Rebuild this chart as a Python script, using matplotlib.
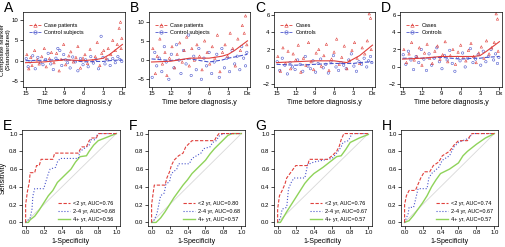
import numpy as np
import matplotlib
matplotlib.use("Agg")
import matplotlib.pyplot as plt
from matplotlib.lines import Line2D

plt.rcParams['font.family'] = ['Liberation Sans', 'DejaVu Sans']

RED = "#e0403c"
BLUE = "#4a55cc"
GREEN = "#8fd35a"

# ---- top row: composite marker vs. time before diagnosis ----
A_case_x = [14.8, 14.5, 14.2, 14.0, 13.6, 13.2, 12.9, 12.5, 12.1, 11.8, 11.3, 11.0, 10.6, 10.2, 9.8, 9.5, 9.1, 8.8, 8.3, 8.0, 7.6, 7.2,
            6.9, 6.5, 6.1, 5.8, 5.4, 5.0, 4.6, 4.2, 3.9, 3.5, 3.2, 2.9, 2.5, 2.2, 1.8, 1.5, 1.1, 0.8, 0.5, 0.3, 0.2, 0.1]
A_case_y = [1.5, -2.0, 0.8, -1.2, 2.5, 0.2, -0.8, 1.0, 3.0, -1.5, 0.5, 2.0, -0.5, 1.8, -2.5, 0.3, 4.0, -1.0, 1.2, 2.2, -0.3, 0.8,
            3.5, -1.8, 0.6, 1.5, -0.7, 2.8, 0.0, 1.0, 4.5, -1.2, 1.8, 2.5, 0.5, 3.0, 1.5, 5.0, 2.5, 4.0, 8.0, 9.5, 3.0, 5.5]
A_ctrl_x = [14.9, 14.6, 14.3, 13.9, 13.5, 13.1, 12.7, 12.3, 11.9, 11.5, 11.1, 10.7, 10.3, 10.0, 9.7, 9.4, 9.1, 8.8, 8.5, 8.1, 7.7,
            7.3, 6.9, 6.5, 6.1, 5.7, 5.3, 4.9, 4.5, 4.1, 3.7, 3.3, 3.0, 2.7, 2.3, 1.9, 1.5, 1.1, 0.7, 0.4, 0.1]
A_ctrl_y = [0.5, -1.5, -0.3, 1.2, -2.0, 0.8, -0.5, -1.0, 0.3, 1.8, -0.8, -2.2, 0.6, 3.0, 2.5, -1.2, 1.5, 0.2, -0.5, -1.8, 0.9,
            -0.3, -2.5, 0.5, -1.0, 0.2, -1.5, 1.0, -0.6, 0.3, -2.0, 6.0, 0.8, -0.8, 0.2, -1.2, 0.5, -0.5, 1.0, 0.3, -0.2]

B_case_x = [14.8, 14.4, 14.1, 13.7, 13.3, 12.9, 12.6, 12.2, 11.8, 11.4, 11.0, 10.6, 10.2, 9.9, 9.5, 9.1, 8.7, 8.3, 7.9, 7.5,
            7.1, 6.7, 6.3, 5.9, 5.5, 5.1, 4.7, 4.3, 3.9, 3.5, 3.1, 2.7, 2.3, 1.9, 1.5, 1.1, 0.8, 0.5, 0.3, 0.1]
B_case_y = [3.0, -3.5, 1.0, 5.5, -1.0, 2.0, -4.0, 0.5, 3.5, -2.0, 1.5, 4.5, -0.5, 2.5, 6.0, -1.5, 3.0, 0.0, 4.0, 1.0,
            -2.5, 5.0, 2.0, -1.0, 3.5, 0.5, 6.5, -3.0, 2.0, 4.0, 1.0, 7.0, 3.0, -1.5, 5.5, 2.5, 9.0, 7.0, 11.5, 4.0]
B_ctrl_x = [14.9, 14.5, 14.2, 13.8, 13.4, 13.0, 12.7, 12.3, 11.9, 11.5, 11.1, 10.7, 10.4, 10.0, 9.6, 9.2, 8.8, 8.4, 8.0, 7.6,
            7.2, 6.8, 6.4, 6.0, 5.6, 5.2, 4.8, 4.4, 4.0, 3.6, 3.2, 2.8, 2.4, 2.0, 1.6, 1.2, 0.9, 0.6, 0.3, 0.1]
B_ctrl_y = [-4.5, 2.0, -1.5, 0.5, -3.0, 3.5, -0.5, -5.0, 1.5, -2.0, 4.0, 0.0, -3.5, 2.5, -1.0, 6.5, -4.0, 1.0, -2.5, 3.0,
            -5.0, 0.5, -1.5, 2.0, -3.5, -0.5, 1.5, -4.5, 3.0, -2.0, 0.5, -3.0, 2.5, -1.0, 1.0, -2.5, 3.5, 0.5, -1.5, 2.0]

C_case_x = [14.8, 14.4, 14.0, 13.6, 13.2, 12.8, 12.4, 12.0, 11.6, 11.2, 10.8, 10.4, 10.0, 9.6, 9.2, 8.8, 8.4, 8.0, 7.6, 7.2,
            6.8, 6.4, 6.0, 5.6, 5.2, 4.8, 4.4, 4.0, 3.6, 3.2, 2.8, 2.4, 2.0, 1.6, 1.2, 0.8, 0.5, 0.3, 0.2]
C_case_y = [1.2, -0.5, 2.2, 0.4, 1.8, -0.2, 1.5, 0.8, 2.5, -0.6, 1.0, 0.2, 2.8, 0.6, -0.3, 1.6, 2.0, 0.1, 1.3, 2.6,
            -0.4, 0.9, 1.7, 3.2, 0.3, 1.1, 2.4, -0.2, 0.7, 1.9, 2.8, 1.0, 0.4, 2.2, 1.5, 3.0, 6.1, 5.6, 2.0]
C_ctrl_x = [14.9, 14.5, 14.1, 13.7, 13.3, 12.9, 12.5, 12.1, 11.7, 11.3, 10.9, 10.5, 10.1, 9.7, 9.3, 8.9, 8.5, 8.1, 7.7, 7.3,
            6.9, 6.5, 6.1, 5.7, 5.3, 4.9, 4.5, 4.1, 3.7, 3.3, 2.9, 2.5, 2.1, 1.7, 1.3, 0.9, 0.6, 0.3, 0.1]
C_ctrl_y = [0.6, -0.4, 1.0, 0.2, -0.8, 0.5, 0.0, -0.3, 0.8, 0.3, -0.5, 1.2, 0.1, -0.2, 0.7, -0.6, 0.4, 0.9, -0.1, 0.3,
            -0.7, 0.6, 1.3, 0.0, -0.4, 0.5, 0.2, -0.2, 0.8, 1.5, 0.1, -0.5, 0.6, 0.3, 1.0, 0.0, 0.7, 1.2, 0.5]

D_case_x = C_case_x
D_case_y = [2.0, 0.5, 1.5, 2.8, 0.8, 1.2, 2.2, 0.2, 1.6, 2.6, 1.0, 0.4, 1.8, 2.4, 0.9, 1.4, 2.9, 0.6, 1.3, 2.0,
            0.3, 1.7, 2.5, 1.1, 0.7, 1.9, 2.7, 1.2, 0.5, 1.6, 2.3, 1.0, 3.0, 1.5, 2.2, 2.8, 6.1, 5.5, 1.8]
D_ctrl_x = C_ctrl_x
D_ctrl_y = [1.4, 0.3, 1.8, 0.8, -0.3, 1.2, 0.5, 2.0, 0.9, -0.4, 1.5, 0.2, 1.0, 2.2, 0.6, -0.2, 1.3, 0.8, 1.9, 0.4,
            -0.5, 1.1, 0.7, 1.6, 0.0, 1.0, 2.1, 0.5, 0.9, 1.4, 0.2, 1.8, 0.6, 1.2, 2.0, 0.8, 1.5, 0.4, 1.1]

# smoothed trend lines
trend_x = [15, 12, 9, 6, 4, 3, 2, 0]
A_case_trend = [-0.5, -0.3, 0.2, 0.0, 0.3, 0.6, 1.5, 4.0]
A_ctrl_trend = [0.0, 0.1, 0.3, -0.3, -0.2, -0.2, 0.0, 0.2]
B_case_trend = [-0.5, -0.3, 0.5, 0.5, 1.0, 1.5, 2.5, 5.0]
B_ctrl_trend = [0.3, -0.1, 0.3, -0.5, 0.0, 0.5, 0.8, 1.5]
C_case_trend = [0.5, 0.6, 0.7, 0.7, 0.5, 0.9, 1.3, 2.5]
C_ctrl_trend = [0.3, 0.2, 0.3, 0.4, 0.4, 0.4, 0.5, 0.6]
D_case_trend = [0.9, 1.0, 1.2, 1.2, 1.2, 1.3, 1.8, 2.9]
D_ctrl_trend = [1.0, 1.0, 1.1, 0.9, 1.0, 1.0, 1.1, 1.2]

time_ticks = [15, 12, 9, 6, 3, 0]
time_labels = ["15", "12", "9", "6", "3", "Dx"]

top_panels = [
    ("A", A_case_x, A_case_y, A_ctrl_x, A_ctrl_y, A_case_trend, A_ctrl_trend,
     (-6.5, 12), [-5, 0, 5, 10], ["Case patients", "Control subjects"], 23, 125),
    ("B", B_case_x, B_case_y, B_ctrl_x, B_ctrl_y, B_case_trend, B_ctrl_trend,
     (-7, 12.5), [-5, 0, 5, 10], ["Case patients", "Control subjects"], 149, 250),
    ("C", C_case_x, C_case_y, C_ctrl_x, C_ctrl_y, C_case_trend, C_ctrl_trend,
     (-2.3, 6.3), [-2, 0, 2, 4, 6], ["Cases", "Controls"], 274, 375),
    ("D", D_case_x, D_case_y, D_ctrl_x, D_ctrl_y, D_case_trend, D_ctrl_trend,
     (-2.3, 6.3), [-2, 0, 2, 4, 6], ["Cases", "Controls"], 400, 502),
]

# ---- bottom row: ROC curves ----
E_lt2 = ([0, 0, 0.02, 0.04, 0.05, 0.10, 0.12, 0.15, 0.17, 0.30, 0.32, 0.58, 0.60, 0.62, 0.67, 0.70, 0.73, 0.78, 0.80, 1.0],
         [0, 0.2, 0.35, 0.45, 0.56, 0.56, 0.64, 0.64, 0.71, 0.71, 0.78, 0.78, 0.82, 0.85, 0.85, 0.92, 0.95, 0.95, 1.0, 1.0])
E_24 = ([0, 0.05, 0.07, 0.08, 0.10, 0.20, 0.22, 0.25, 0.27, 0.33, 0.35, 0.38, 0.58, 0.60, 0.70, 0.72, 0.77, 0.78, 0.80, 1.0],
        [0, 0.05, 0.15, 0.30, 0.38, 0.38, 0.45, 0.55, 0.60, 0.62, 0.68, 0.72, 0.72, 0.80, 0.87, 0.93, 0.93, 0.97, 1.0, 1.0])
E_4p = ([0, 0.03, 0.05, 0.10, 0.15, 0.20, 0.25, 0.30, 0.35, 0.40, 0.45, 0.50, 0.55, 0.60, 0.67, 0.70, 0.75, 0.80, 0.90, 1.0],
        [0, 0, 0.03, 0.07, 0.14, 0.22, 0.30, 0.36, 0.45, 0.50, 0.55, 0.60, 0.68, 0.74, 0.75, 0.80, 0.87, 0.92, 0.96, 1.0])

F_lt2 = ([0, 0, 0.02, 0.03, 0.15, 0.17, 0.20, 0.22, 0.25, 0.30, 0.35, 0.38, 0.45, 0.70, 0.72, 0.75, 1.0],
         [0, 0.2, 0.35, 0.42, 0.42, 0.50, 0.57, 0.64, 0.70, 0.75, 0.78, 0.85, 0.92, 0.92, 0.96, 1.0, 1.0])
F_24 = ([0, 0.03, 0.06, 0.08, 0.10, 0.14, 0.16, 0.20, 0.22, 0.28, 0.30, 0.42, 0.45, 0.55, 0.58, 0.65, 0.68, 0.72, 0.75, 0.80, 1.0],
        [0, 0.03, 0.10, 0.20, 0.30, 0.33, 0.43, 0.46, 0.55, 0.60, 0.66, 0.66, 0.72, 0.78, 0.83, 0.85, 0.90, 0.92, 0.97, 1.0, 1.0])
F_4p = ([0, 0.05, 0.10, 0.15, 0.20, 0.25, 0.30, 0.35, 0.40, 0.45, 0.50, 0.55, 0.60, 0.65, 0.70, 0.75, 0.80, 0.85, 0.90, 1.0],
        [0, 0, 0.05, 0.12, 0.20, 0.28, 0.35, 0.42, 0.48, 0.55, 0.60, 0.65, 0.70, 0.77, 0.83, 0.88, 0.93, 0.98, 1.0, 1.0])

G_lt2 = ([0, 0, 0.02, 0.05, 0.08, 0.10, 0.15, 0.20, 0.33, 0.35, 0.55, 0.60, 0.65, 0.68, 0.70, 0.73, 1.0],
         [0, 0.15, 0.30, 0.36, 0.43, 0.50, 0.57, 0.64, 0.64, 0.71, 0.71, 0.75, 0.80, 0.86, 0.93, 1.0, 1.0])
G_24 = ([0, 0.03, 0.05, 0.10, 0.12, 0.15, 0.18, 0.30, 0.33, 0.40, 0.60, 0.65, 0.70, 0.72, 0.78, 0.82, 1.0],
        [0, 0.05, 0.15, 0.17, 0.38, 0.45, 0.50, 0.50, 0.65, 0.68, 0.72, 0.78, 0.85, 0.90, 0.92, 1.0, 1.0])
G_4p = ([0, 0.03, 0.06, 0.10, 0.15, 0.20, 0.25, 0.30, 0.35, 0.40, 0.50, 0.60, 0.65, 0.70, 0.75, 0.80, 0.90, 1.0],
        [0, 0, 0.05, 0.12, 0.20, 0.28, 0.36, 0.44, 0.50, 0.55, 0.62, 0.70, 0.74, 0.75, 0.82, 0.90, 0.95, 0.99])

H_lt2 = ([0, 0, 0.02, 0.05, 0.12, 0.15, 0.18, 0.22, 0.28, 0.32, 0.38, 0.42, 0.50, 0.55, 0.60, 0.70, 0.72, 0.75, 1.0],
         [0, 0.2, 0.30, 0.36, 0.36, 0.43, 0.50, 0.57, 0.57, 0.64, 0.68, 0.75, 0.80, 0.87, 0.92, 0.92, 0.96, 1.0, 1.0])
H_24 = ([0, 0.02, 0.04, 0.05, 0.10, 0.12, 0.15, 0.25, 0.27, 0.30, 0.38, 0.42, 0.50, 0.55, 0.60, 0.72, 0.75, 1.0],
        [0, 0.05, 0.10, 0.17, 0.17, 0.25, 0.38, 0.38, 0.50, 0.55, 0.62, 0.70, 0.75, 0.85, 0.90, 0.95, 1.0, 1.0])
H_4p = ([0, 0.05, 0.10, 0.15, 0.20, 0.25, 0.30, 0.35, 0.40, 0.50, 0.60, 0.65, 0.70, 0.80, 0.90, 1.0],
        [0, 0.02, 0.08, 0.15, 0.22, 0.30, 0.40, 0.48, 0.55, 0.60, 0.67, 0.75, 0.80, 0.88, 0.95, 1.0])

E_auc = ["0.76", "0.68", "0.56"]
F_auc = ["0.80", "0.68", "0.57"]
G_auc = ["0.76", "0.67", "0.57"]
H_auc = ["0.74", "0.67", "0.57"]

bottom_panels = [
    ("E", E_lt2, E_24, E_4p, E_auc, 22, 120),
    ("F", F_lt2, F_24, F_4p, F_auc, 148, 245),
    ("G", G_lt2, G_24, G_4p, G_auc, 274, 372),
    ("H", H_lt2, H_24, H_4p, H_auc, 401, 498),
]

W, H = 506, 247
fig = plt.figure(figsize=(W / 100, H / 100), dpi=100)


def px_axes(left, right, top, bottom):
    return fig.add_axes([left / W, 1 - bottom / H, (right - left) / W, (bottom - top) / H])


def style(ax):
    ax.tick_params(labelsize=4.3, length=2, width=0.5, pad=1.2)
    for s in ax.spines.values():
        s.set_linewidth(0.5)


for (lab, cx, cy, kx, ky, ct, kt, ylim, yticks, names, left, right) in top_panels:
    ax = px_axes(left, right, 12, 87)
    ax.scatter(kx, ky, s=3, marker="o", facecolors="none", edgecolors=BLUE, linewidths=0.4)
    ax.scatter(cx, cy, s=3, marker="^", facecolors="none", edgecolors=RED, linewidths=0.4)
    ax.plot(trend_x, kt, color=BLUE, lw=0.8, ls="--")
    ax.plot(trend_x, ct, color=RED, lw=0.8)
    ax.set_xlim(15.4, -0.4)
    ax.set_ylim(*ylim)
    ax.set_xticks(time_ticks)
    ax.set_xticklabels(time_labels)
    ax.set_yticks(yticks)
    ax.set_xlabel("Time before diagnosis,y", fontsize=5, labelpad=2)
    style(ax)
    handles = [Line2D([], [], color=RED, lw=0.6, ls="--", marker="^", ms=2.5, mfc="none", mew=0.4),
               Line2D([], [], color=BLUE, lw=0.6, ls="--", marker="o", ms=2.5, mfc="none", mew=0.4)]
    ax.legend(handles, names, loc="upper left", bbox_to_anchor=(0.02, 0.9), fontsize=4, frameon=False,
              handlelength=2.2, handletextpad=0.6, labelspacing=0.3, borderpad=0.2)
    fig.text((left - 19) / W, 1 - 1 / H, lab, fontsize=10, va="top", ha="left")
    if lab == "A":
        ax.set_ylabel("Composite Marker\n(Standardized)", fontsize=4.6, labelpad=1, linespacing=1.0)

for (lab, r1, r2, r3, auc, left, right) in bottom_panels:
    ax = px_axes(left, right, 130, 226)
    ax.plot([0, 1], [0, 1], color="#d8d8d8", lw=0.6)
    ax.plot(r3[0], r3[1], color=GREEN, lw=1.0, ls="-", label="4+ yr, AUC=" + auc[2])
    ax.plot(r2[0], r2[1], color=BLUE, lw=0.8, ls=":", label="2-4 yr, AUC=" + auc[1])
    ax.plot(r1[0], r1[1], color=RED, lw=0.8, ls="--", dashes=(3, 1.5), label="<2 yr, AUC=" + auc[0])
    ax.set_xlim(-0.04, 1.04)
    ax.set_ylim(-0.04, 1.04)
    ticks = [0.0, 0.2, 0.4, 0.6, 0.8, 1.0]
    ax.set_xticks(ticks)
    ax.set_yticks(ticks)
    ax.set_xticklabels(["0.0", "0.2", "0.4", "0.6", "0.8", "1.0"])
    ax.set_yticklabels(["0.0", "0.2", "0.4", "0.6", "0.8", "1.0"])
    ax.set_xlabel("1-Specificity", fontsize=5, labelpad=2)
    style(ax)
    h, l = ax.get_legend_handles_labels()
    ax.legend(h[::-1], l[::-1], loc="lower right", fontsize=4, frameon=False,
              handlelength=2.2, handletextpad=0.6, labelspacing=0.5, borderpad=0.3)
    fig.text((left - 19) / W, 1 - 119 / H, lab, fontsize=10, va="top", ha="left")
    if lab == "E":
        ax.set_ylabel("Sensitivity", fontsize=5, labelpad=2)

fig.savefig("out.png", dpi=100)
